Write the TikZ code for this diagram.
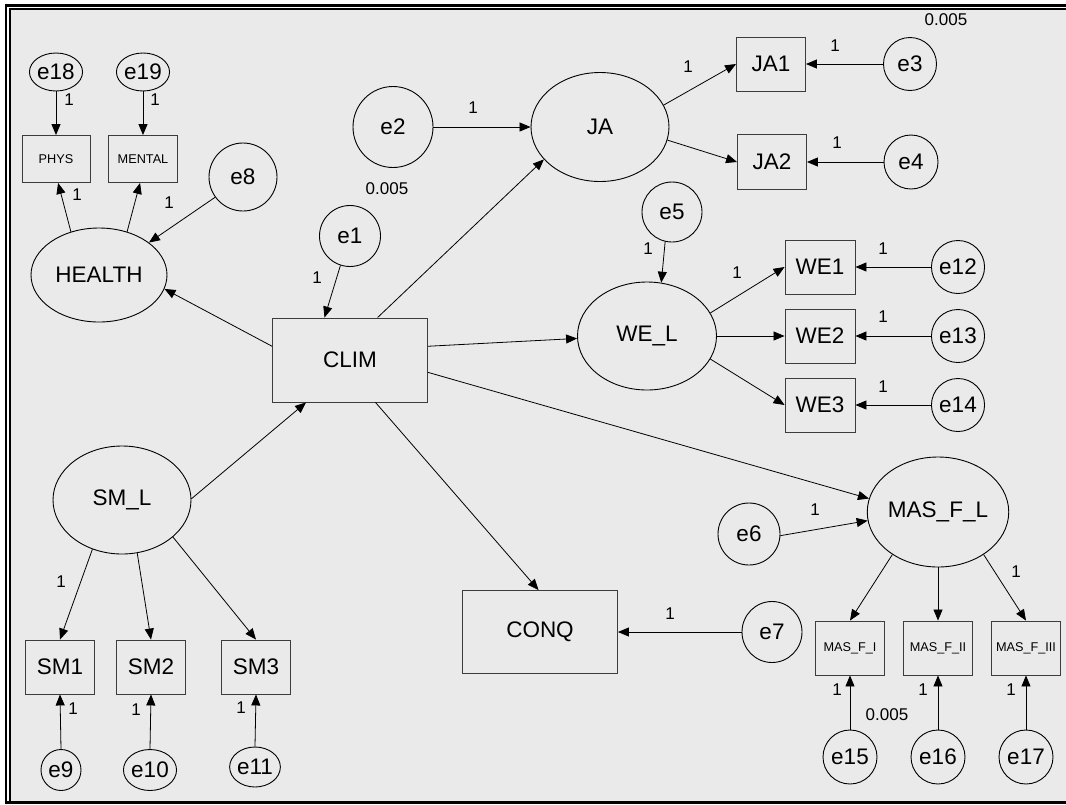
\documentclass[tikz,border=0pt]{standalone}
\usepackage{fontspec}
\setmainfont{Liberation Sans}
\usetikzlibrary{shapes.geometric,arrows.meta}
\definecolor{bg}{RGB}{234,234,234}
\definecolor{boxline}{RGB}{60,60,60}
\newcommand{\fntbig}{\fontsize{22.5}{26}\selectfont}
\newcommand{\fntlbl}{\fontsize{17}{20}\selectfont}
\newcommand{\fntsm}{\fontsize{12.7}{15}\selectfont}
\begin{document}
\begin{tikzpicture}[x=1pt,y=-1pt,
  lat/.style={ellipse,draw=black,line width=0.9pt,inner sep=0pt,font=\fntbig},
  err/.style={ellipse,draw=black,line width=0.9pt,inner sep=0pt,font=\fntbig},
  obs/.style={rectangle,draw=boxline,line width=0.9pt,inner sep=0pt,font=\fntbig},
  obss/.style={obs,font=\fntsm},
  lbl/.style={font=\fntlbl,inner sep=0pt},
  arr/.style={-{Triangle[length=11pt,width=9pt]},line width=0.8pt},
  sz/.style 2 args={minimum width=#1pt,minimum height=#2pt}]
\useasboundingbox (0,0) rectangle (1066,804);
% frame
\fill[white] (0,0) rectangle (1066,804);
\fill[bg] (10,9) rectangle (1066,801);
\draw[line width=1.7pt] (10,804) -- (10,9) -- (1066,9);
\draw[line width=2.4pt] (6,804) -- (6,5.5) -- (1066,5.5);
\draw[line width=3pt] (6,802.5) -- (1066,802.5);

% HEALTH block
\node[err,sz={46}{38}] (e18) at (56,72) {e18};
\node[err,sz={46}{38}] (e19) at (143,72) {e19};
\node[obss,sz={68}{47}] (PHYS) at (56,159) {PHYS};
\node[obss,sz={69}{47}] (MENTAL) at (143,159) {MENTAL};
\node[err,sz={68}{68}] (e8) at (243,177) {e8};
\node[lat,sz={136}{94}] (HEALTH) at (99,275) {HEALTH};

% centre
\node[err,sz={61}{61}] (e1) at (350,236) {e1};
\node[obs,sz={155}{84}] (CLIM) at (350,360) {CLIM};
\node[err,sz={80}{81}] (e2) at (393,127) {e2};
\node[lat,sz={138}{109}] (JA) at (600,127) {JA};
\node[obs,sz={69}{54}] (JA1) at (771,64) {JA1};
\node[obs,sz={69}{55}] (JA2) at (772,162) {JA2};
\node[err,sz={53}{53}] (e3) at (910,64) {e3};
\node[err,sz={54}{54}] (e4) at (911,162) {e4};

\node[err,sz={60}{60}] (e5) at (672,212) {e5};
\node[lat,sz={139}{108}] (WEL) at (647,336) {WE\_L};
\node[obs,sz={70}{54}] (WE1) at (820,267) {WE1};
\node[obs,sz={70}{54}] (WE2) at (820,336) {WE2};
\node[obs,sz={70}{54}] (WE3) at (820,405) {WE3};
\node[err,sz={53}{53}] (e12) at (958,267) {e12};
\node[err,sz={53}{53}] (e13) at (958,336) {e13};
\node[err,sz={53}{53}] (e14) at (958,405) {e14};

\node[lat,sz={137}{110}] (MAS) at (938,512) {MAS\_F\_L};
\node[err,sz={62}{62}] (e6) at (749,534) {e6};
\node[obs,sz={155}{83}] (CONQ) at (540,632) {CONQ};
\node[err,sz={60}{61}] (e7) at (772,632) {e7};
\node[obss,sz={69}{54}] (MF1) at (850,648) {MAS\_F\_I};
\node[obss,sz={69}{54}] (MF2) at (938,648) {MAS\_F\_II};
\node[obss,sz={69}{54}] (MF3) at (1026,648) {MAS\_F\_III};
\node[err,sz={54}{54}] (e15) at (850,757) {e15};
\node[err,sz={54}{54}] (e16) at (938,757) {e16};
\node[err,sz={54}{54}] (e17) at (1026,757) {e17};

% SM block
\node[lat,sz={138}{108}] (SML) at (122,500) {SM\_L};
\node[obs,sz={69}{54}] (SM1) at (60,667) {SM1};
\node[obs,sz={69}{54}] (SM2) at (151,667) {SM2};
\node[obs,sz={69}{54}] (SM3) at (256,667) {SM3};
\node[err,sz={40}{41}] (e9) at (61,770) {e9};
\node[err,sz={39}{41}] (e10) at (150,770) {e10};
\node[err,sz={41}{40}] (e11) at (255,767) {e11};

% connectors
\draw[arr] (e18.south) -- (PHYS.north);
\draw[arr] (e19.south) -- (MENTAL.north);
\draw[arr] (HEALTH.123) -- (PHYS.-85);
\draw[arr] (HEALTH.57) -- (MENTAL.-97);
\draw[arr] (e8.216) -- (HEALTH.33);
\draw[arr] (CLIM.170.5) -- (HEALTH.-12);
\draw[arr] (e1.252) -- (CLIM.121);
\draw[arr] (CLIM.57) -- (JA.210);
\draw[arr] (e2.east) -- (JA.west);
\draw[arr] (JA.19) -- (JA1.west);
\draw[arr] (JA.-11) -- (JA2.west);
\draw[arr] (e3.west) -- (JA1.east);
\draw[arr] (e4.west) -- (JA2.east);
\draw[arr] (e5.257) -- (WEL.75.5);
\draw[arr] (CLIM.10.3) -- (WEL.182);
\draw[arr] (WEL.20) -- (WE1.west);
\draw[arr] (WEL.east) -- (WE2.west);
\draw[arr] (WEL.-20) -- (WE3.west);
\draw[arr] (e12.west) -- (WE1.east);
\draw[arr] (e13.west) -- (WE2.east);
\draw[arr] (e14.west) -- (WE3.east);
\draw[arr] (CLIM.-9.6) -- (MAS.169.5);
\draw[arr] (e6.-3.7) -- (MAS.187);
\draw[arr] (CLIM.-59) -- (CONQ.92.7);
\draw[arr] (e7.west) -- (CONQ.east);
\draw[arr] (MAS.223) -- (MF1.north);
\draw[arr] (MAS.south) -- (MF2.north);
\draw[arr] (MAS.-43) -- (MF3.north);
\draw[arr] (e15.north) -- (MF1.south);
\draw[arr] (e16.north) -- (MF2.south);
\draw[arr] (e17.north) -- (MF3.south);
\draw[arr] (SML.1.7) -- (CLIM.224);
\draw[arr] (SML.239) -- (SM1.north);
\draw[arr] (SML.-74.5) -- (SM2.north);
\draw[arr] (SML.-36.7) -- (SM3.north);
\draw[arr] (e9.north) -- (SM1.south);
\draw[arr] (e10.north) -- (SM2.south);
\draw[arr] (e11.north) -- (SM3.south);

% labels
\node[lbl] (l1) at (69,100) {1};
\node[lbl] (l2) at (155,100) {1};
\node[lbl] (l3) at (77,195) {1};
\node[lbl] (l4) at (169,203) {1};
\node[lbl] (l5) at (317,278) {1};
\node[lbl] (l6) at (473,108) {1};
\node[lbl] (v1) at (387,189) {0.005};
\node[lbl] (l7) at (688,67) {1};
\node[lbl] (v2) at (946,20) {0.005};
\node[lbl] (l8) at (835,46) {1};
\node[lbl] (l9) at (837,143) {1};
\node[lbl] (l10) at (648,249) {1};
\node[lbl] (l11) at (737,273) {1};
\node[lbl] (l12) at (883,249) {1};
\node[lbl] (l13) at (883,317) {1};
\node[lbl] (l14) at (883,387) {1};
\node[lbl] (l15) at (815,510) {1};
\node[lbl] (l16) at (670,614) {1};
\node[lbl] (l17) at (1016,572) {1};
\node[lbl] (l18) at (837,690) {1};
\node[lbl] (l19) at (923,690) {1};
\node[lbl] (l20) at (1011,690) {1};
\node[lbl] (v3) at (887,715) {0.005};
\node[lbl] (l21) at (61,582) {1};
\node[lbl] (l22) at (73,709) {1};
\node[lbl] (l23) at (136,710) {1};
\node[lbl] (l24) at (241,708) {1};
\end{tikzpicture}
\end{document}
